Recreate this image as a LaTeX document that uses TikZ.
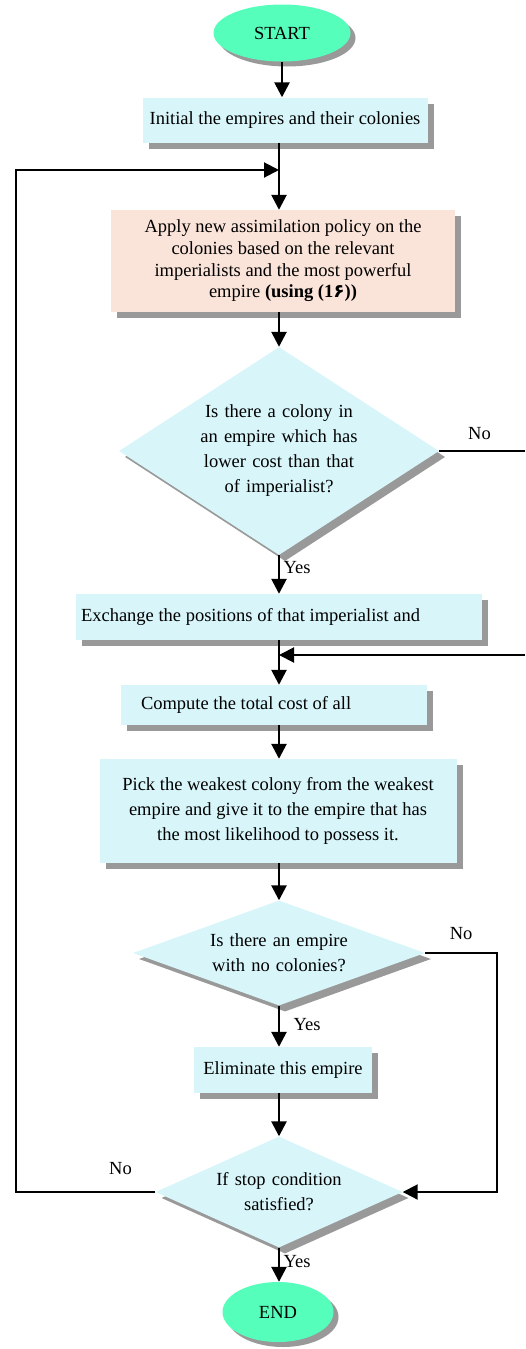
\documentclass[tikz,border=0pt]{standalone}
\usepackage{fontspec}
\setmainfont{Liberation Serif}
\newfontfamily\farsifont[Script=Arabic]{DejaVu Sans}
\usetikzlibrary{arrows.meta, shapes.geometric, shadows}
\usepackage{xcolor}

\definecolor{boxcyan}{HTML}{D8F6FA}
\definecolor{boxpeach}{HTML}{FAE3D8}
\definecolor{termgreen}{HTML}{55FFBB}
\definecolor{shadegray}{HTML}{999999}

\tikzset{
  grayshadow/.style={general shadow={fill=shadegray, shadow xshift=#1, shadow yshift=-#1}},
  terminal/.style={ellipse, fill=termgreen, inner sep=0pt, grayshadow=5pt},
  procbox/.style={rectangle, fill=boxcyan, inner sep=0pt, grayshadow=6pt},
  decision/.style={diamond, fill=boxcyan, inner sep=0pt, align=center, grayshadow=6pt},
  flow/.style={line width=2.6pt, -{Triangle[length=15pt, width=15pt]}},
  backline/.style={line width=2pt, -{Triangle[length=15pt, width=15pt]}},
  noline/.style={line width=1.6pt}
}

\begin{document}
\begin{tikzpicture}[x=1pt, y=-1pt, font=\fontsize{18.5}{25}\selectfont]
  \useasboundingbox (0,0) rectangle (525,1349);

  % terminals and process boxes
  \node[terminal, minimum width=137pt, minimum height=57pt] (start) at (282,33) {START};
  \node[procbox, minimum width=285pt, minimum height=45pt] (init) at (285,120) {Initial the empires and their colonies};
  \node[procbox, fill=boxpeach, minimum width=344pt, minimum height=102pt, align=center,
        font=\fontsize{18.5}{21.7}\selectfont] (assim) at (283,261)
    {Apply new assimilation policy on the\\ colonies based on the relevant\\
     imperialists and the most powerful\\ empire \textbf{(using (1{\farsifont ۶}))}};

  % first decision
  \node[decision, minimum width=320pt, minimum height=208pt, text width=168pt, shape aspect=1.6] (lowcost) at (279,451)
    {Is there a colony in\\ an empire which has\\ lower cost than that\\ of imperialist?};

  \node[procbox, minimum width=406pt, minimum height=46pt, text width=396pt, align=flush left] (swap) at (279,617)
    {Exchange the positions of that imperialist and};
  \node[procbox, minimum width=306pt, minimum height=40pt, text width=266pt, align=flush left] (total) at (274,705)
    {Compute the total cost of all};
  \node[procbox, minimum width=357pt, minimum height=104pt, align=center] (pick) at (278,811)
    {Pick the weakest colony from the weakest\\ empire and give it to the empire that has\\
     the most likelihood to possess it.};

  % second and third decisions
  \node[decision, minimum width=292pt, minimum height=105pt, text width=140pt, shape aspect=2.8] (nocol) at (279,953)
    {Is there an empire\\ with no colonies?};
  \node[procbox, minimum width=178pt, minimum height=46pt] (elim) at (283,1070) {Eliminate this empire};
  \node[decision, minimum width=247pt, minimum height=111pt, text width=138pt, shape aspect=2.2] (stop) at (279,1192)
    {If stop condition\\ satisfied?};
  \node[terminal, minimum width=111pt, minimum height=60pt] (finish) at (278,1312) {END};

  % free ends of the connectors
  \coordinate (loopin) at (279,170);
  \coordinate (looptop) at (16,170);
  \coordinate (loopbot) at (16,1192);
  \coordinate (edgeout) at (525,451);
  \coordinate (edgein) at (525,655);
  \coordinate (rejoin) at (279,655);
  \coordinate (sidecorner) at (497,953);

  % main flow
  \draw[flow] (start.south) -- (start.south |- init.north);
  \draw[flow] (init.south -| loopin) -- (assim.north -| loopin);
  \draw[flow] (assim.south -| lowcost) -- (lowcost.north);
  \draw[flow] (lowcost.south) -- node[right, pos=0.33] {Yes} (swap.north -| lowcost);
  \draw[flow] (swap.south -| rejoin) -- (total.north -| rejoin);
  \draw[flow] (total.south -| rejoin) -- (pick.north -| rejoin);
  \draw[flow] (pick.south -| nocol) -- (nocol.north);
  \draw[flow] (nocol.south) -- node[right, pos=0.45, xshift=10pt] {Yes} (elim.north -| nocol);
  \draw[flow] (elim.south -| stop) -- (stop.north);
  \draw[flow] (stop.south) -- node[right, pos=0.4] {Yes} (finish.north -| stop);

  % branches
  \draw[noline] (lowcost.east) -- node[above=7pt, pos=0.47] {No} (edgeout);
  \draw[backline] (edgein) -- (rejoin);
  \draw[backline] (nocol.east) -- node[above=9pt] {No} (sidecorner) |- (stop.east);
  \draw[backline] (stop.west) -- node[above=13pt, pos=0.25] {No} (loopbot) -- (looptop) -- (loopin);
\end{tikzpicture}
\end{document}
